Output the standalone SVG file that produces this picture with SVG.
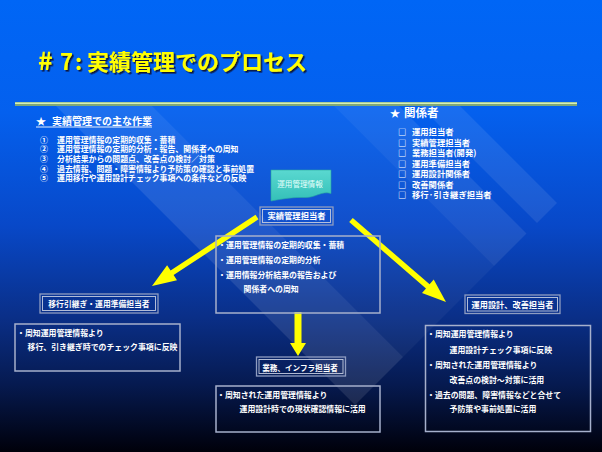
<svg xmlns="http://www.w3.org/2000/svg" width="602" height="452" viewBox="0 0 602 452">
<defs>
<linearGradient id="bg" x1="0" y1="0" x2="0" y2="1">
<stop offset="0" stop-color="#0066f6"/>
<stop offset="0.25" stop-color="#0460ee"/>
<stop offset="0.5" stop-color="#0848c8"/>
<stop offset="0.7" stop-color="#0a2f88"/>
<stop offset="0.85" stop-color="#061a50"/>
<stop offset="1" stop-color="#00000a"/>
</linearGradient>
<linearGradient id="docg" x1="0" y1="0" x2="0" y2="1">
<stop offset="0" stop-color="#5ad8d0"/>
<stop offset="1" stop-color="#34c0b8"/>
</linearGradient>
<filter id="sh" x="-5%" y="-20%" width="115%" height="150%">
<feDropShadow dx="1.6" dy="1.6" stdDeviation="0.3" flood-color="#101028" flood-opacity="0.9"/>
</filter>
<style>
.t{font-family:"Noto Sans CJK JP","Noto Sans CJK SC",sans-serif;fill:#ffffff;font-weight:bold}
.l{font-size:7.9px}
.r{font-size:8.3px}
.d{font-size:7.9px}
.hb{fill:none;stroke:#8e9cc0;stroke-width:1.3}
.hi{fill:none;stroke:#c4cce0;stroke-width:0.9}
.bx{fill:none;stroke:#a6b0cc;stroke-width:1.5}
.arr{fill:#ffff00}
.band{fill:#ffffff}
</style>
</defs>
<rect x="0" y="0" width="602" height="452" fill="url(#bg)"/>
<g id="background-bands">
<polygon class="band" fill-opacity="0.1" points="56,106 152,106 403,357 355,405"/>
<polygon class="band" fill-opacity="0.045" points="152,106 334,106 494,266 403,357"/>
<polygon class="band" fill-opacity="0.085" points="334,106 399,106 526.5,233.5 494,266"/>
<polygon class="band" fill-opacity="0.085" points="420,106 460,106 557,203 537,223"/>
</g>
<g id="title">
<text class="t" font-size="22" y="70" style="fill:#ffff00" filter="url(#sh)"><tspan x="38" font-size="25">#</tspan><tspan x="60">7</tspan><tspan x="75">:</tspan><tspan x="87">実績管理でのプロセス</tspan></text>
<rect x="15" y="102" width="562" height="4" fill="#7fa878"/>
<line x1="15" y1="103.2" x2="577" y2="103.2" stroke="#d4f0b8" stroke-width="1.4"/>
</g>
<g id="main-tasks">
<text class="t" font-size="10" y="124.5"><tspan x="36">★</tspan><tspan x="52">実績管理での主な作業</tspan></text>
<line x1="36" y1="127" x2="152" y2="127" stroke="#ffffff" stroke-width="0.9"/>
<text class="t l" y="142.5"><tspan x="40">①</tspan><tspan x="57">運用管理情報の定期的収集・蓄積</tspan></text>
<text class="t l" y="152.2"><tspan x="40">②</tspan><tspan x="57">運用管理情報の定期的分析・報告、関係者への周知</tspan></text>
<text class="t l" y="161.9"><tspan x="40">③</tspan><tspan x="57">分析結果からの問題点、改善点の検討／対策</tspan></text>
<text class="t l" y="171.6"><tspan x="40">④</tspan><tspan x="57">過去情報、問題・障害情報より予防策の確認と事前処置</tspan></text>
<text class="t l" y="181.3"><tspan x="40">⑤</tspan><tspan x="57">運用移行や運用設計チェック事項への条件などの反映</tspan></text>
</g>
<g id="stakeholders">
<text class="t" font-size="11.5" y="117"><tspan x="390" font-size="10">★</tspan><tspan x="404">関係者</tspan></text>
<text class="t r" y="135.3"><tspan x="398">□</tspan><tspan x="412">運用担当者</tspan></text>
<text class="t r" y="145.8"><tspan x="398">□</tspan><tspan x="412">実績管理担当者</tspan></text>
<text class="t r" y="156.3"><tspan x="398">□</tspan><tspan x="412">業務担当者(開発)</tspan></text>
<text class="t r" y="166.8"><tspan x="398">□</tspan><tspan x="412">運用準備担当者</tspan></text>
<text class="t r" y="177.3"><tspan x="398">□</tspan><tspan x="412">運用設計関係者</tspan></text>
<text class="t r" y="187.8"><tspan x="398">□</tspan><tspan x="412">改善関係者</tspan></text>
<text class="t r" y="198.3"><tspan x="398">□</tspan><tspan x="412">移行·引き継ぎ担当者</tspan></text>
</g>
<g id="connectors">
<polygon class="arr" points="258.5,219.3 173.6,275.1 177.0,280.3 152,286 167.1,265.3 170.6,270.5 255.5,214.7"/>
<polygon class="arr" points="349.2,222.1 426.0,288.4 422.0,293.1 446,302 433.7,279.5 429.6,284.3 352.8,217.9"/>
<polygon class="arr" points="294.5,312 301.5,312 301.5,343 306,343 298,356 290,343 294.5,343"/>
</g>
<g id="node-info">
<path d="M271,170 H331 V193.5 C322,190.5 315,198 305,197.5 C294,197 284,198.5 271,201 Z" fill="url(#docg)" stroke="#2aa8a0" stroke-width="0.6"/>
<text class="t" font-size="7.6" x="300" y="186.5" text-anchor="middle" style="fill:#e6fffb;font-weight:normal">運用管理情報</text>
</g>
<g id="node-jisseki">
<rect class="hb" x="260" y="207" width="73" height="18"/>
<rect class="hi" x="262.5" y="209.5" width="68" height="13"/>
<text class="t" font-size="8.3" x="296.5" y="219" text-anchor="middle">実績管理担当者</text>
</g>
<g id="node-jisseki-tasks">
<rect class="bx" x="216" y="236" width="164" height="77"/>
<text class="t d" x="218" y="248">・運用管理情報の定期的収集・蓄積</text>
<text class="t d" x="218" y="262.5">・運用管理情報の定期的分析</text>
<text class="t d" x="218" y="277.5">・運用情報分析結果の報告および</text>
<text class="t d" x="243.5" y="292">関係者への周知</text>
</g>
<g id="node-migration">
<rect class="hb" x="40" y="294" width="118" height="19"/>
<rect class="hi" x="42.5" y="296.5" width="113" height="14"/>
<text class="t" font-size="7.8" x="99" y="307" text-anchor="middle">移行引継ぎ・運用準備担当者</text>
</g>
<g id="node-migration-detail">
<rect class="bx" x="15" y="324" width="165" height="47"/>
<text class="t d" x="17" y="336">・周知運用管理情報より</text>
<text class="t d" x="27.5" y="350">移行、引き継ぎ時でのチェック事項に反映</text>
</g>
<g id="node-infra">
<rect class="hb" x="256.5" y="357" width="89" height="19"/>
<rect class="hi" x="259" y="359.5" width="84" height="14"/>
<text class="t" font-size="7.6" x="300" y="370.5" text-anchor="middle">業務、インフラ担当者</text>
</g>
<g id="node-infra-detail">
<rect class="bx" x="216" y="386" width="164" height="46"/>
<text class="t d" x="217" y="397.5">・周知された運用管理情報より</text>
<text class="t d" x="239.5" y="412">運用設計時での現状確認情報に活用</text>
</g>
<g id="node-design">
<rect class="hb" x="465" y="295" width="95" height="18.5"/>
<rect class="hi" x="467.5" y="297.5" width="90" height="13.5"/>
<text class="t" font-size="8.2" x="512.5" y="308" text-anchor="middle">運用設計、改善担当者</text>
</g>
<g id="node-design-detail">
<rect class="bx" x="425.5" y="325.5" width="165" height="106"/>
<text class="t d" x="427" y="336.5">・周知運用管理情報より</text>
<text class="t d" x="449.5" y="353">運用設計チェック事項に反映</text>
<text class="t d" x="427" y="367.5">・周知された運用管理情報より</text>
<text class="t d" x="449.5" y="382.5">改善点の検討～対策に活用</text>
<text class="t d" x="427" y="398">・過去の問題、障害情報などと合せて</text>
<text class="t d" x="449.5" y="411.5">予防策や事前処置に活用</text>
</g>
</svg>
